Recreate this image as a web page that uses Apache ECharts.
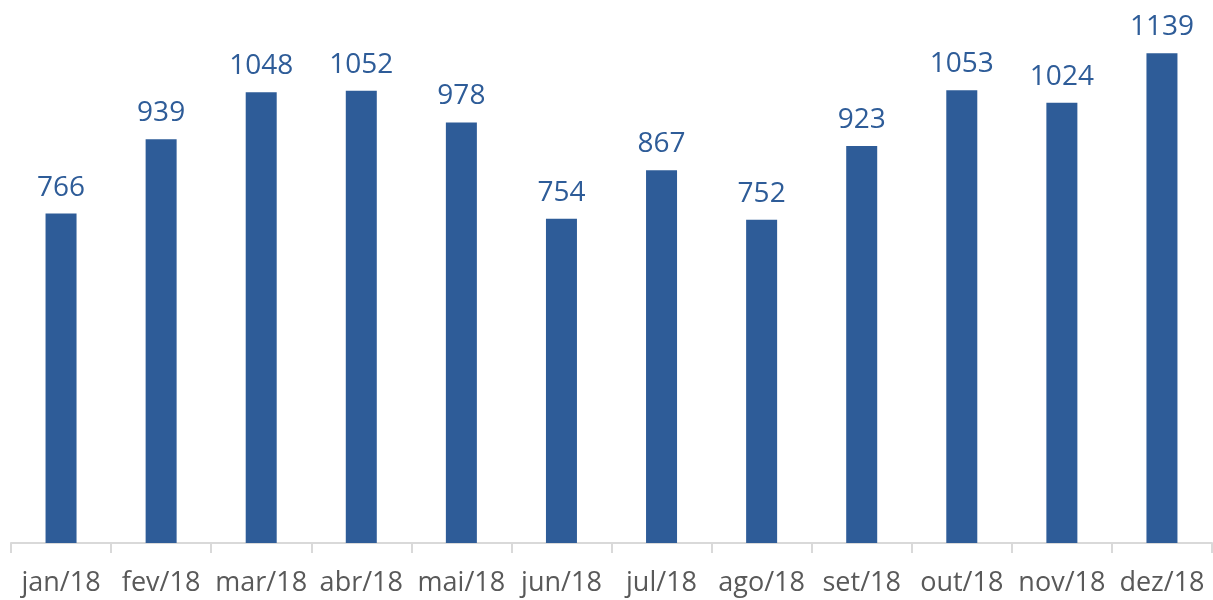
<!DOCTYPE html>
<html lang="pt">
  <head>
    <meta charset="UTF-8" />
    <title>Mensal 2018</title>
    <script src="https://cdn.jsdelivr.net/npm/echarts@6.0.0/dist/echarts.min.js"></script>
    <style>
      html, body { margin: 0; padding: 0; background: #fff; }
      #main { width: 1213px; height: 600px; }
    </style>
  </head>
  <body>
    <div id="main"></div>
    <script>
      const months = [
        'jan/18', 'fev/18', 'mar/18', 'abr/18', 'mai/18', 'jun/18',
        'jul/18', 'ago/18', 'set/18', 'out/18', 'nov/18', 'dez/18',
      ];
      const values = [766, 939, 1048, 1052, 978, 754, 867, 752, 923, 1053, 1024, 1139];

      const barColor = '#2E5C98';
      const fontFamily = '"Open Sans", "Noto Sans", sans-serif';

      const chart = echarts.init(document.getElementById('main'));
      chart.setOption({
        animation: false,
        grid: { left: 11, right: 1, top: 27, bottom: 57 },
        xAxis: {
          type: 'category',
          data: months,
          axisLine: { lineStyle: { color: '#d9d9d9', width: 2 } },
          axisTick: {
            show: true,
            alignWithLabel: false,
            length: 10,
            lineStyle: { color: '#d9d9d9', width: 2 },
          },
          axisLabel: {
            color: '#595959',
            fontSize: 27,
            fontFamily: fontFamily,
            margin: 27,
            interval: 0,
          },
        },
        yAxis: {
          type: 'value',
          min: 0,
          max: 1200,
          show: false,
          splitLine: { show: false },
        },
        series: [
          {
            type: 'bar',
            data: values,
            barWidth: 31,
            itemStyle: { color: barColor },
            label: {
              show: true,
              position: 'top',
              distance: 12,
              color: barColor,
              fontSize: 28,
              fontFamily: fontFamily,
            },
          },
        ],
      });
    </script>
  </body>
</html>
